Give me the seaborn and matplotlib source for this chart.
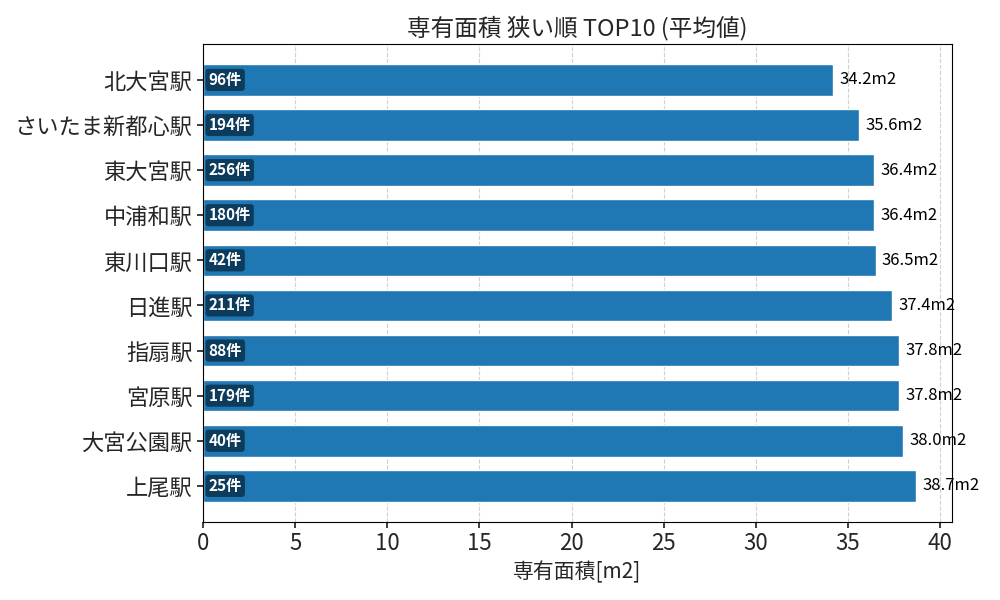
import matplotlib
matplotlib.use("Agg")
import matplotlib.pyplot as plt
import seaborn as sns
import pandas as pd

stations = ["北大宮駅", "さいたま新都心駅", "東大宮駅", "中浦和駅", "東川口駅", "日進駅", "指扇駅", "宮原駅", "大宮公園駅", "上尾駅"]
areas = [34.2, 35.6, 36.4, 36.4, 36.5, 37.4, 37.8, 37.8, 38.0, 38.7]
counts = [96, 194, 256, 180, 42, 211, 88, 179, 40, 25]

sns.set_theme(style="white")
plt.rcParams['font.family'] = ['Noto Sans CJK JP', 'DejaVu Sans']

df = pd.DataFrame({"station": stations, "area": areas})
fig, ax = plt.subplots(figsize=(10, 6), dpi=100)
sns.barplot(data=df, x="area", y="station", color="#1f77b4", saturation=1, width=0.7, ax=ax, zorder=2)
ax.set_xlim(0, 40.65)
ax.set_ylim(9.8, -0.8)
ax.xaxis.grid(True, linestyle="--", color="#d0d0d0", linewidth=0.8, zorder=0)
ax.set_axisbelow(True)
for i, (a, c) in enumerate(zip(areas, counts)):
    ax.text(a + 0.35, i, f"{a:.1f}m2", va="center", ha="left", fontsize=12, color="black")
    ax.text(0.3, i, f"{c}件", va="center", ha="left", fontsize=11, color="white", fontweight="bold",
            bbox=dict(boxstyle="round,pad=0.2", facecolor="#0d3b5c", edgecolor="none"))
ax.set_title("専有面積 狭い順 TOP10 (平均値)", fontsize=17)
ax.set_xlabel("専有面積[m2]", fontsize=15)
ax.set_ylabel("")
ax.tick_params(axis="both", labelsize=16, left=True, bottom=True, length=4)
for s in ax.spines.values():
    s.set_color("black")
    s.set_linewidth(0.8)
plt.subplots_adjust(left=0.203, right=0.952, top=0.927, bottom=0.13)
fig.savefig("out.png", dpi=100)
